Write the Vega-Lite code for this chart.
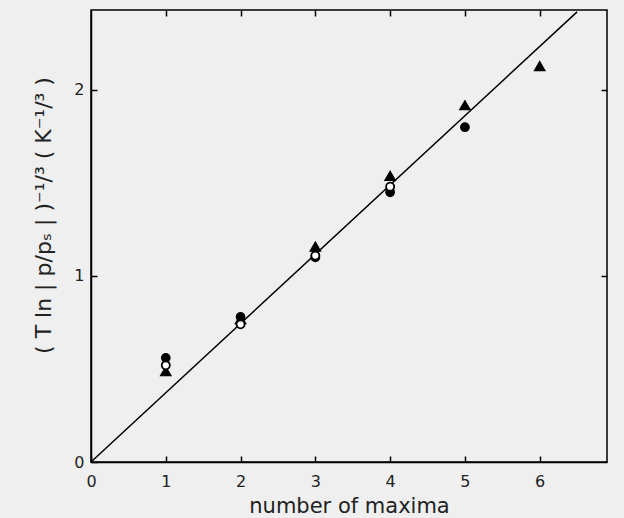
{
  "$schema": "https://vega.github.io/schema/vega-lite/v6.json",
  "autosize": {"type": "none"},
  "width": 516,
  "height": 452,
  "padding": {"left": 91, "top": 10, "right": 17, "bottom": 56},
  "background": "#efefef",
  "config": {
    "view": {"stroke": "black", "strokeWidth": 1.5},
    "font": "DejaVu Sans",
    "axis": {"grid": false, "domainColor": "black", "tickColor": "black", "labelColor": "#222", "titleColor": "#222", "labelFont": "DejaVu Sans", "titleFont": "DejaVu Sans", "titleFontWeight": "normal", "labelFontSize": 16, "titleFontSize": 20, "domainWidth": 1.5, "tickWidth": 1.5, "labelFlush": false}
  },
  "datasets": {
    "points": [
      {"n": 1, "v": 0.49, "series": "filled triangle"},
      {"n": 2, "v": 0.77, "series": "filled triangle"},
      {"n": 3, "v": 1.16, "series": "filled triangle"},
      {"n": 4, "v": 1.54, "series": "filled triangle"},
      {"n": 5, "v": 1.92, "series": "filled triangle"},
      {"n": 6, "v": 2.13, "series": "filled triangle"},
      {"n": 1, "v": 0.56, "series": "filled circle"},
      {"n": 2, "v": 0.78, "series": "filled circle"},
      {"n": 3, "v": 1.10, "series": "filled circle"},
      {"n": 4, "v": 1.45, "series": "filled circle"},
      {"n": 5, "v": 1.80, "series": "filled circle"},
      {"n": 1, "v": 0.52, "series": "open circle"},
      {"n": 2, "v": 0.74, "series": "open circle"},
      {"n": 3, "v": 1.11, "series": "open circle"},
      {"n": 4, "v": 1.48, "series": "open circle"}
    ],
    "fit": [
      {"n": 0, "v": 0, "n2": 6.5, "v2": 2.42}
    ]
  },
  "layer": [
    {
      "data": {"name": "fit"},
      "mark": {"type": "rule", "color": "black", "strokeWidth": 1.5},
      "encoding": {
        "x": {"field": "n", "type": "quantitative", "scale": {"domain": [0, 6.9], "nice": false},
              "axis": {"values": [0, 1, 2, 3, 4, 5, 6], "tickSize": -6, "labelPadding": 17, "title": "number of maxima", "titlePadding": 6, "titleFontSize": 21}},
        "y": {"field": "v", "type": "quantitative", "scale": {"domain": [0, 2.43], "nice": false},
              "axis": {"values": [0, 1, 2], "tickSize": -6, "labelPadding": 13, "title": "( T ln | p/pₛ | )⁻¹/³    ( K⁻¹/³ )", "titlePadding": 18, "titleFontSize": 22, "titleY": 205}},
        "x2": {"field": "n2"},
        "y2": {"field": "v2"}
      }
    },
    {
      "data": {"name": "points"},
      "transform": [{"filter": "datum.series === 'filled circle'"}],
      "mark": {"type": "point", "shape": "circle", "filled": true, "color": "black", "size": 95, "opacity": 1},
      "encoding": {
        "x": {"field": "n", "type": "quantitative", "axis": {"orient": "top", "values": [1, 2, 3, 4, 5, 6], "tickSize": -6, "labels": false, "title": null, "domain": false}},
        "y": {"field": "v", "type": "quantitative", "axis": {"orient": "right", "values": [1, 2], "tickSize": -6, "labels": false, "title": null, "domain": false}}
      }
    },
    {
      "data": {"name": "points"},
      "transform": [{"filter": "datum.series === 'filled triangle'"}],
      "mark": {"type": "point", "shape": "triangle-up", "filled": true, "color": "black", "size": 160, "opacity": 1},
      "encoding": {
        "x": {"field": "n", "type": "quantitative", "axis": null},
        "y": {"field": "v", "type": "quantitative", "axis": null}
      }
    },
    {
      "data": {"name": "points"},
      "transform": [{"filter": "datum.series === 'open circle'"}],
      "mark": {"type": "point", "shape": "circle", "filled": false, "fill": "white", "fillOpacity": 1, "stroke": "black", "strokeWidth": 1.8, "size": 65, "opacity": 1},
      "encoding": {
        "x": {"field": "n", "type": "quantitative", "axis": null},
        "y": {"field": "v", "type": "quantitative", "axis": null}
      }
    }
  ],
  "resolve": {"axis": {"x": "independent", "y": "independent"}}
}
